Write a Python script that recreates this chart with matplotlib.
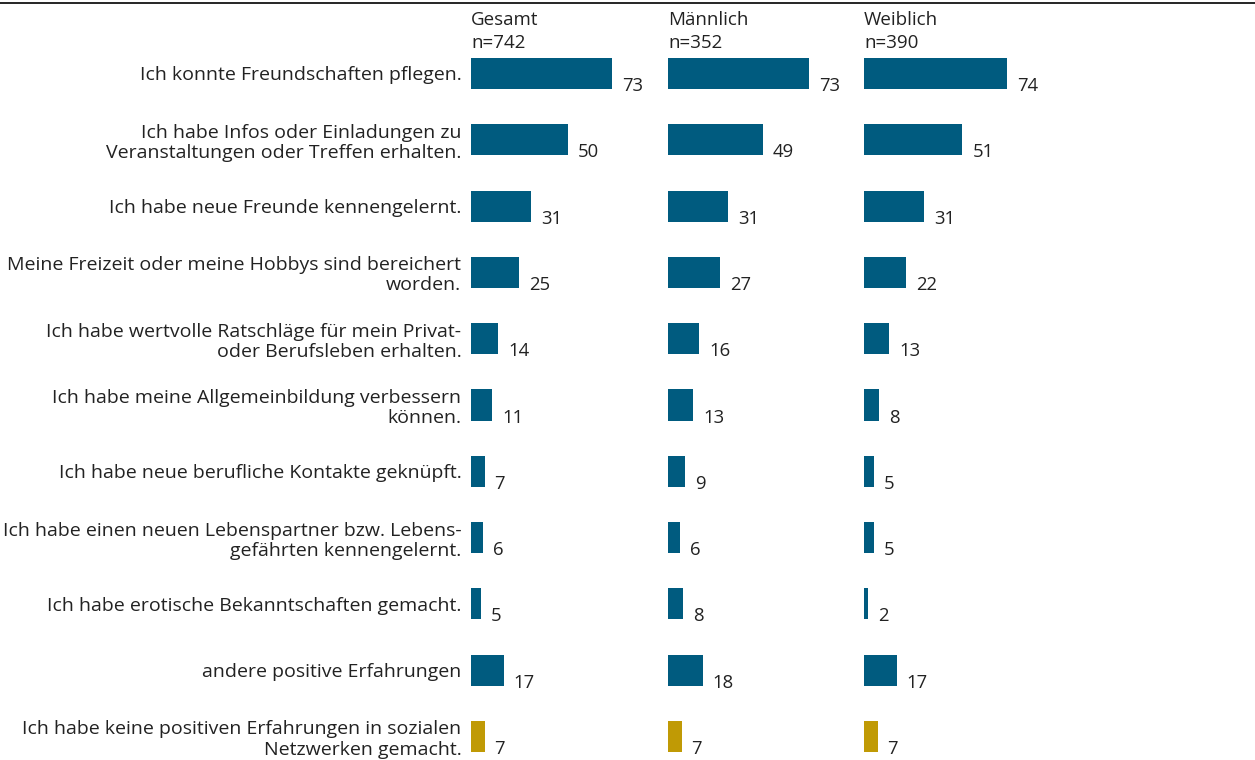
import matplotlib.pyplot as plt
from matplotlib.transforms import blended_transform_factory

plt.rcParams["font.family"] = ["Open Sans", "DejaVu Sans"]

# ── Daten ─────────────────────────────────────────────────────────────
categories = [
    "Ich konnte Freundschaften pflegen.",
    "Ich habe Infos oder Einladungen zu\nVeranstaltungen oder Treffen erhalten.",
    "Ich habe neue Freunde kennengelernt.",
    "Meine Freizeit oder meine Hobbys sind bereichert\nworden.",
    "Ich habe wertvolle Ratschläge für mein Privat-\noder Berufsleben erhalten.",
    "Ich habe meine Allgemeinbildung verbessern\nkönnen.",
    "Ich habe neue berufliche Kontakte geknüpft.",
    "Ich habe einen neuen Lebenspartner bzw. Lebens-\ngefährten kennengelernt.",
    "Ich habe erotische Bekanntschaften gemacht.",
    "andere positive Erfahrungen",
    "Ich habe keine positiven Erfahrungen in sozialen\nNetzwerken gemacht.",
]
groups = ["Gesamt", "Männlich", "Weiblich"]
group_n = [742, 352, 390]
gesamt = [73, 50, 31, 25, 14, 11, 7, 6, 5, 17, 7]
maennlich = [73, 49, 31, 27, 16, 13, 9, 6, 8, 18, 7]
weiblich = [74, 51, 31, 22, 13, 8, 5, 5, 2, 17, 7]
values = [gesamt, maennlich, weiblich]

BLUE = "#005b7f"
GOLD = "#c09a05"
TEXT = "#222222"
W, H = 1255, 760
BAR_H = 0.47

fig = plt.figure(figsize=(W / 100, H / 100), dpi=100)

# Panel-Positionen in Pixeln (Balkenanfang)
panel_left = [471, 668, 864]
px_per_unit = 1.93
axis_max = 100

row0, row_step = 73.5, 66.3
ylim = ((H - row0) / row_step, -row0 / row_step)

colors = [BLUE] * (len(categories) - 1) + [GOLD]
ypos = list(range(len(categories)))

for idx, (left, name, n, vals) in enumerate(zip(panel_left, groups, group_n, values)):
    ax = fig.add_axes([left / W, 0, axis_max * px_per_unit / W, 1])
    ax.barh(ypos, vals, height=BAR_H, color=colors, align="center")
    ax.set_xlim(0, axis_max)
    ax.set_ylim(*ylim)
    for s in ax.spines.values():
        s.set_visible(False)
    ax.set_xticks([])
    if idx == 0:
        ax.set_yticks(ypos)
        ax.set_yticklabels(categories, fontsize=14, color=TEXT, linespacing=1.15)
        ax.tick_params(axis="y", length=0, pad=7)
    else:
        ax.set_yticks([])

    # Werte rechts unten neben dem Balken
    for y, v in zip(ypos, vals):
        ax.annotate(str(v), xy=(v, y + BAR_H / 2), xytext=(10, -2),
                    textcoords="offset pixels", ha="left", va="baseline",
                    fontsize=13.3, color=TEXT)

    trans = blended_transform_factory(ax.transData, fig.transFigure)
    ax.text(0, 1 - 20 / H, name, transform=trans, ha="left", va="center",
            fontsize=13.5, color=TEXT)
    ax.text(0, 1 - 43 / H, f"n={n}", transform=trans, ha="left", va="center",
            fontsize=13.5, color=TEXT)

# Linie oben
fig.add_artist(plt.Line2D([0, 1], [1 - 3 / H, 1 - 3 / H], transform=fig.transFigure,
                          color="black", linewidth=1.2))

fig.savefig("out.png", dpi=100)
